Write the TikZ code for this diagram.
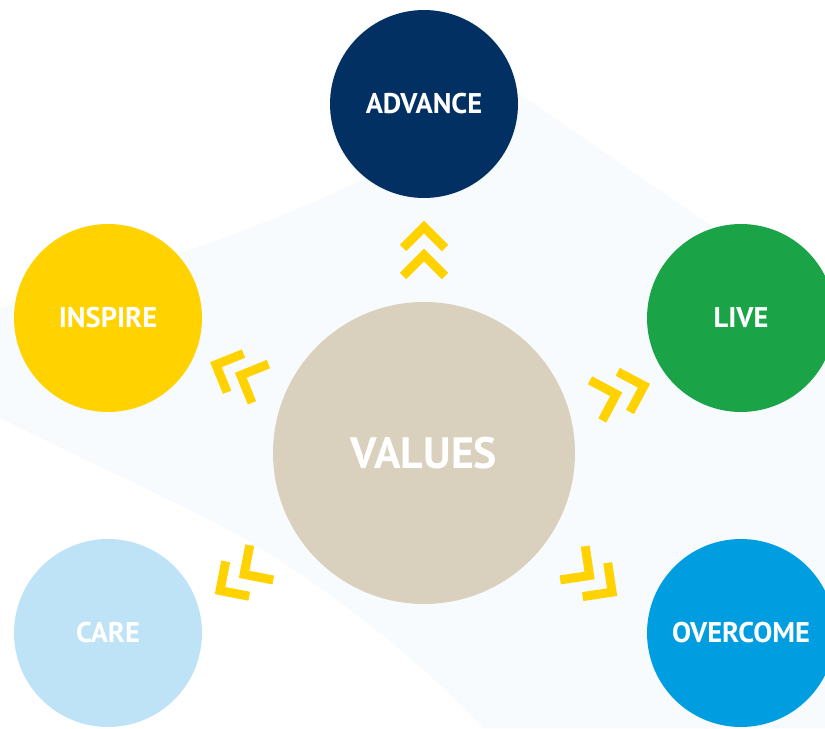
\documentclass[tikz,border=0pt]{standalone}
\usepackage{fontspec}
\setmainfont{PT Sans}
\usepackage{tikz}
\usepackage{xcolor}
\definecolor{navy}{RGB}{2,48,99}
\definecolor{sun}{RGB}{255,210,0}
\definecolor{leaf}{RGB}{27,163,72}
\definecolor{sand}{RGB}{217,208,190}
\definecolor{sky}{RGB}{191,227,246}
\definecolor{ocean}{RGB}{0,158,224}
\definecolor{haze}{RGB}{247,251,254}

\begin{document}
\begin{tikzpicture}[x=0.02cm,y=0.02cm,
  bubble/.style={circle,minimum size=3.76cm,inner sep=0pt,text=white,font=\fontsize{16.2}{19}\selectfont\bfseries},
  chev/.style={draw=sun,line width=5.1pt,line join=miter}]
\useasboundingbox (0,0) rectangle (825,728);
\clip (0,0) rectangle (825,728);
\fill[white] (0,0) rectangle (825,728);
% pale band behind the circles
\fill[haze] (0,420) .. controls (150,460) and (300,513) .. (400,568) -- (470,668) -- (713,501) -- (825,423)
  -- (825,0) -- (483,0) .. controls (420,68) and (330,138) .. (250,186) .. controls (200,216) and (120,250) .. (0,310) -- cycle;
\node[bubble,fill=navy] (advance) at (424,624) {ADVANCE};
\node[bubble,fill=sun] (inspire) at (108,410) {INSPIRE};
\node[bubble,fill=leaf] (live) at (741,410) {LIVE};
\node[bubble,fill=sand,minimum size=6.04cm,font=\fontsize{25}{29}\selectfont\bfseries] (values) at (424,275) {VALUES};
\node[bubble,fill=sky] (care) at (108,95) {CARE};
\node[bubble,fill=ocean] (overcome) at (741,95) {OVERCOME};
% double chevrons
\draw[chev,shift={(values.center)},rotate=90] (205,21) -- (226,0) -- (205,-21);
\draw[chev,shift={(values.center)},rotate=90] (177,21) -- (198,0) -- (177,-21);
\draw[chev,shift={(values.center)},rotate=157] (205,21) -- (226,0) -- (205,-21);
\draw[chev,shift={(values.center)},rotate=157] (178,21) -- (199,0) -- (178,-21);
\draw[chev,shift={(values.center)},rotate=17] (209,21) -- (230,0) -- (209,-21);
\draw[chev,shift={(values.center)},rotate=17] (180,21) -- (201,0) -- (180,-21);
\draw[chev,shift={(values.center)},rotate=214] (225,21) -- (246,0) -- (225,-21);
\draw[chev,shift={(values.center)},rotate=214] (196,21) -- (217,0) -- (196,-21);
\draw[chev,shift={(values.center)},rotate=-36.5] (213,21) -- (234,0) -- (213,-21);
\draw[chev,shift={(values.center)},rotate=-36.5] (185,21) -- (206,0) -- (185,-21);
\end{tikzpicture}
\end{document}
